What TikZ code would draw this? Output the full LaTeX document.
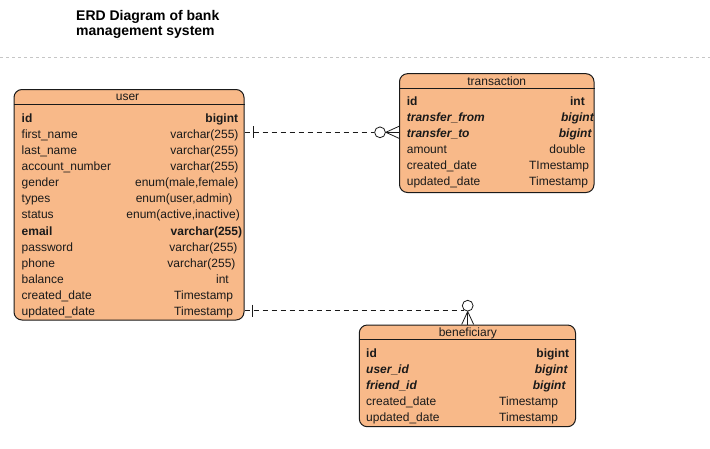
\documentclass[tikz,border=0pt]{standalone}
\usepackage{fontspec}
\setmainfont{Liberation Sans}
\definecolor{entityfill}{RGB}{248,185,137}
\definecolor{ink}{RGB}{26,26,26}

\begin{document}
\begin{tikzpicture}[x=1pt,y=-1pt,
  entity/.style={draw=ink,fill=entityfill,line width=1pt,rounded corners=8pt,inner sep=0pt},
  head/.style={inner sep=0pt,anchor=base,text=ink,font=\fontsize{12}{14}\selectfont},
  field/.style={inner sep=0pt,anchor=base west,text=ink,font=\fontsize{12}{14}\selectfont},
  ftype/.style={inner sep=0pt,anchor=base east,text=ink,font=\fontsize{12}{14}\selectfont},
  key/.style={font=\fontsize{12}{14}\selectfont\bfseries},
  fkey/.style={font=\fontsize{12}{14}\selectfont\bfseries\itshape},
  sep/.style={draw=ink,line width=0.7pt},
  rel/.style={draw=ink,line width=0.8pt,dash pattern=on 5pt off 4pt},
  foot/.style={draw=ink,line width=0.8pt},
  zero/.style={circle,draw=ink,line width=0.8pt,fill=white,inner sep=0pt,minimum size=10.8pt}]
\useasboundingbox (0,0) rectangle (710,448);

% title
\node[anchor=base west,inner sep=0pt,font=\fontsize{14}{15}\selectfont\bfseries] (title1) at (76,20) {ERD Diagram of bank};
\node[anchor=base west,inner sep=0pt,font=\fontsize{14}{15}\selectfont\bfseries] (title2) at (76,35) {management system};
\draw[gray!45,line width=0.8pt,dash pattern=on 3pt off 3pt] (0,57.5) -- (710,57.5);

% user
\node[entity,minimum width=230pt,minimum height=230.5pt] (user) at (129,204.75) {};
\draw[sep] (user.west |- 0,104) -- (user.east |- 0,104);
\node[head] (user-title) at (127.5,100) {user};
\node[field,key] (user-id) at (21.5,122.5) {id};
\node[ftype,key] (user-id-t) at (238.3,122.5) {bigint};
\node[field] (user-fn) at (21.5,138.6) {first\_name};
\node[ftype] (user-fn-t) at (238.7,138.6) {varchar(255)};
\node[field] (user-ln) at (21.5,154.6) {last\_name};
\node[ftype] (user-ln-t) at (238.7,154.6) {varchar(255)};
\node[field] (user-acc) at (21.5,170.7) {account\_number};
\node[ftype] (user-acc-t) at (238.7,170.7) {varchar(255)};
\node[field] (user-gender) at (21.5,186.8) {gender};
\node[ftype] (user-gender-t) at (238.7,186.8) {enum(male,female)};
\node[field] (user-types) at (21.5,202.9) {types};
\node[ftype] (user-types-t) at (232.7,202.9) {enum(user,admin)};
\node[field] (user-status) at (21.5,218.9) {status};
\node[ftype] (user-status-t) at (240,218.9) {enum(active,inactive)};
\node[field,key] (user-email) at (21.5,235) {email};
\node[ftype,key] (user-email-t) at (242.3,235) {varchar(255)};
\node[field] (user-pw) at (21.5,251.1) {password};
\node[ftype] (user-pw-t) at (237.7,251.1) {varchar(255)};
\node[field] (user-phone) at (21.5,267.1) {phone};
\node[ftype] (user-phone-t) at (235.7,267.1) {varchar(255)};
\node[field] (user-bal) at (21.5,283.2) {balance};
\node[ftype] (user-bal-t) at (229,283.2) {int};
\node[field] (user-cd) at (21.5,299.3) {created\_date};
\node[ftype] (user-cd-t) at (233.3,299.3) {Timestamp};
\node[field] (user-ud) at (21.5,315.3) {updated\_date};
\node[ftype] (user-ud-t) at (233.3,315.3) {Timestamp};

% transaction
\node[entity,minimum width=194.5pt,minimum height=118.8pt] (trans) at (496.75,133.1) {};
\draw[sep] (trans.west |- 0,88) -- (trans.east |- 0,88);
\node[head] (trans-title) at (496.75,85) {transaction};
\node[field,key] (trans-id) at (406.7,105.5) {id};
\node[ftype,key] (trans-id-t) at (585,105.5) {int};
\node[field,fkey] (trans-from) at (406.7,121.4) {transfer\_from};
\node[ftype,fkey] (trans-from-t) at (594,121.4) {bigint};
\node[field,fkey] (trans-to) at (406.7,137.4) {transfer\_to};
\node[ftype,fkey] (trans-to-t) at (591.7,137.4) {bigint};
\node[field] (trans-amt) at (406.7,153.3) {amount};
\node[ftype] (trans-amt-t) at (585.7,153.3) {double};
\node[field] (trans-cd) at (406.7,169.3) {created\_date};
\node[ftype] (trans-cd-t) at (589.3,169.3) {TImestamp};
\node[field] (trans-ud) at (406.7,185.2) {updated\_date};
\node[ftype] (trans-ud-t) at (588.3,185.2) {Timestamp};

% beneficiary
\node[entity,minimum width=216.2pt,minimum height=101.7pt] (benef) at (467.4,375.85) {};
\draw[sep] (benef.west |- 0,339.5) -- (benef.east |- 0,339.5);
\node[head] (benef-title) at (467.8,336) {beneficiary};
\node[field,key] (benef-id) at (366,357.2) {id};
\node[ftype,key] (benef-id-t) at (569.3,357.2) {bigint};
\node[field,fkey] (benef-user) at (366,373.2) {user\_id};
\node[ftype,fkey] (benef-user-t) at (567.7,373.2) {bigint};
\node[field,fkey] (benef-friend) at (366,389.2) {friend\_id};
\node[ftype,fkey] (benef-friend-t) at (565.7,389.2) {bigint};
\node[field] (benef-cd) at (366,405.2) {created\_date};
\node[ftype] (benef-cd-t) at (558.3,405.2) {Timestamp};
\node[field] (benef-ud) at (366,421.2) {updated\_date};
\node[ftype] (benef-ud-t) at (558.3,421.2) {Timestamp};

% user -- transaction
\node[zero] (z1) at (380,132.3) {};
\draw[rel] (user.east |- z1) -- (z1.west);
\draw[foot] (253,126.3) -- (253,138.3);
\draw[foot] (z1.east) -- (trans.west |- 0,126.3);
\draw[foot] (z1.east) -- (trans.west |- z1);
\draw[foot] (z1.east) -- (trans.west |- 0,138.3);

% user -- beneficiary
\node[zero] (z2) at (467.7,305.7) {};
\draw[rel] (user.east |- 0,310.5) -- (z2.south west |- 0,310.5);
\draw[foot] (252,304.5) -- (252,316.5);
\draw[foot] (z2.south) -- (benef.north -| 461.7,0);
\draw[foot] (z2.south) -- (benef.north -| z2);
\draw[foot] (z2.south) -- (benef.north -| 473.7,0);
\end{tikzpicture}
\end{document}
